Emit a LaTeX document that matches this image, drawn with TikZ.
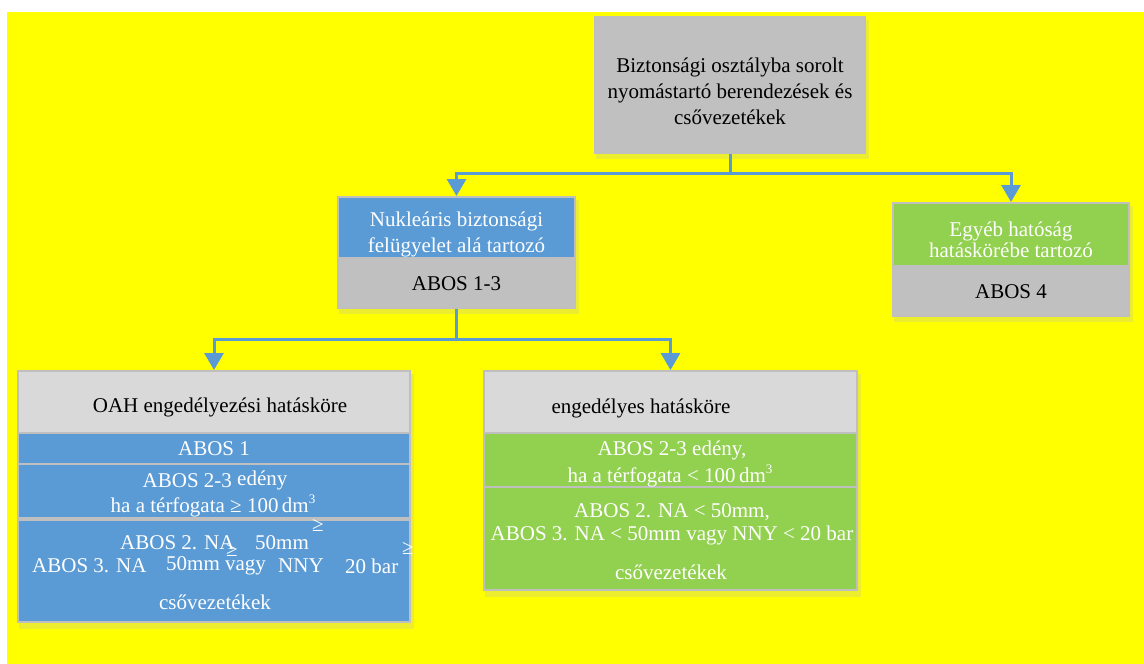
\documentclass[tikz,border=0pt]{standalone}
\usepackage{fontspec}
\setmainfont{Liberation Serif}
\usetikzlibrary{arrows.meta,calc}
\definecolor{bgyellow}{HTML}{FFFF00}
\definecolor{boxgray}{HTML}{C0C0C0}
\definecolor{headgray}{HTML}{D9D9D9}
\definecolor{boxblue}{HTML}{5B9BD5}
\definecolor{boxgreen}{HTML}{92D050}
\definecolor{edgegray}{HTML}{BFBFBF}
\definecolor{connblue}{HTML}{5B9BD5}
\definecolor{shadowyellow}{HTML}{EDED30}
\pgfdeclarelayer{bglayer}
\pgfdeclarelayer{shadowlayer}
\pgfsetlayers{bglayer,shadowlayer,main}
\newcommand{\supthree}{\raisebox{9pt}{\fontsize{13}{13}\selectfont 3}}
\begin{document}
\begin{tikzpicture}[x=1pt,y=-1pt,
  cell/.style={draw=edgegray, line width=2pt, rectangle, inner sep=0pt},
  txt/.style={inner sep=0pt, align=center, font=\fontsize{21}{26}\selectfont},
  wtxt/.style={txt, text=white},
  btxt/.style={txt, text=black},
  conn/.style={draw=connblue, line width=3pt, -{Triangle[width=19pt,length=17pt]}},
  shadowbox/.style={fill=shadowyellow}
]
\useasboundingbox (0,0) rectangle (1144,664);
\begin{pgfonlayer}{bglayer}
\fill[white] (0,0) rectangle (1144,664);
\fill[bgyellow] (7,12) rectangle (1144,664);
\end{pgfonlayer}

% top box
\node[cell, fill=boxgray, minimum width=270pt, minimum height=136pt] (top) at (730,85) {};
% Nuclear box
\node[cell, fill=boxblue, minimum width=237pt, minimum height=61pt] (nukT) at (456.5,227.5) {};
\node[cell, fill=boxgray, minimum width=237pt, minimum height=50pt] (nukB) at (456.5,283) {};
% Other authority box
\node[cell, fill=boxgreen, minimum width=236pt, minimum height=63pt] (egyT) at (1011,234.5) {};
\node[cell, fill=boxgray, minimum width=236pt, minimum height=50pt] (egyB) at (1011,291) {};
% bottom-left box
\node[cell, fill=headgray, minimum width=392pt, minimum height=62pt] (oahH) at (214,402) {};
\node[cell, fill=boxblue, minimum width=392pt, minimum height=31pt] (oahR1) at (214,448.5) {};
\node[cell, fill=boxblue, minimum width=392pt, minimum height=54pt] (oahR2) at (214,491) {};
\node[cell, fill=boxblue, minimum width=392pt, minimum height=102pt] (oahR3) at (214,571) {};
% bottom-right box
\node[cell, fill=headgray, minimum width=373pt, minimum height=62pt] (engH) at (670.5,402) {};
\node[cell, fill=boxgreen, minimum width=373pt, minimum height=54pt] (engR2) at (670.5,460) {};
\node[cell, fill=boxgreen, minimum width=373pt, minimum height=103pt] (engR3) at (670.5,538.5) {};

% shadows
\begin{pgfonlayer}{shadowlayer}
\fill[shadowbox] ([shift={(2,4)}]top.north west) rectangle ([shift={(3,5)}]top.south east);
\fill[shadowbox] ([shift={(2,4)}]nukT.north west) rectangle ([shift={(3,5)}]nukB.south east);
\fill[shadowbox] ([shift={(2,4)}]egyT.north west) rectangle ([shift={(3,5)}]egyB.south east);
\fill[shadowbox] ([shift={(2,4)}]oahH.north west) rectangle ([shift={(3,6)}]oahR3.south east);
\fill[shadowbox] ([shift={(2,4)}]engH.north west) rectangle ([shift={(3,6)}]engR3.south east);
\end{pgfonlayer}

% texts
\node[btxt] (topText) at (730,91) {Biztonsági osztályba sorolt\\nyomástartó berendezések és\\csővezetékek};
\node[wtxt] (nukText) at (456.5,234) {Nukleáris biztonsági\\felügyelet alá tartozó};
\node[btxt] (nukAbos) at (456.5,284) {ABOS 1-3};
\node[wtxt, font=\fontsize{21}{21}\selectfont] (egyText) at (1011,240) {Egyéb hatóság\\hatáskörébe tartozó};
\node[btxt] (egyAbos) at (1011,292) {ABOS 4};

\node[btxt] (oahHText) at (220,407) {OAH engedélyezési hatásköre};
\node[wtxt] (oahR1Text) at (214,449) {ABOS 1};
\node[wtxt] (oahR2a) at (215,480) {ABOS 2-3 \raisebox{2pt}{edény}};
\node[wtxt] (oahR2b) at (213,506) {ha a térfogata ≥ 100\,dm\supthree};
\node[wtxt, anchor=west] (l1a) at (120,543) {ABOS 2. NA};
\node[wtxt, anchor=west] (l1b) at (255,543) {50mm};
\node[wtxt, anchor=west] (l2a) at (32,566) {ABOS 3. NA};
\node[wtxt, anchor=west] (l2b) at (166,566) {50mm vagy};
\node[wtxt, anchor=west] (l2c) at (278,566) {NNY};
\node[wtxt, anchor=west] (l2d) at (345,566) {20 bar};
\node[wtxt] (ge1) at (232,550) {≥};
\node[wtxt] (ge2) at (318,525) {≥};
\node[wtxt] (ge3) at (408,548) {≥};
\node[wtxt] (oahCso) at (215,602) {csővezetékek};

\node[btxt] (engHText) at (641,408) {engedélyes hatásköre};
\node[wtxt] (engR2a) at (672,450) {ABOS 2-3 edény,};
\node[wtxt] (engR2b) at (670,476) {ha a térfogata < 100\,dm\supthree};
\node[wtxt] (engR3a) at (672,512) {ABOS 2. NA < 50mm,};
\node[wtxt] (engR3b) at (672,535) {ABOS 3. NA < 50mm vagy NNY < 20 bar};
\node[wtxt] (engR3c) at (671,572) {csővezetékek};

% connectors
\draw[conn] (top.south) -- ++(0,19) -| (nukT.north);
\draw[conn] (top.south) -- ++(0,19) -| (egyT.north);
\draw[conn] (nukB.south) -- ++(0,30) -| (oahH.north);
\draw[conn] (nukB.south) -- ++(0,30) -| (engH.north);
\end{tikzpicture}
\end{document}
